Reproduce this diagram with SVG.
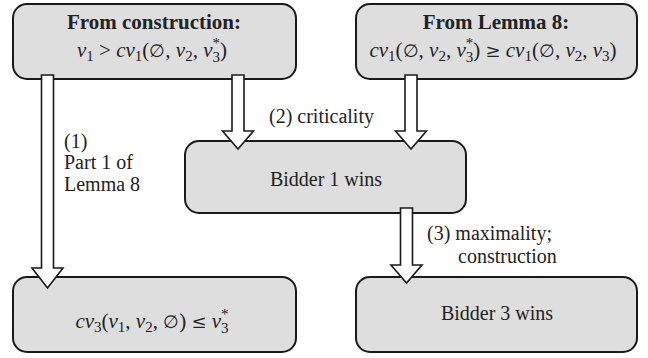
<svg xmlns="http://www.w3.org/2000/svg" width="648" height="358" viewBox="0 0 648 358">
<style>
.box{fill:#dedede;stroke:#1a1a1a;stroke-width:2}
.arr{fill:#fff;stroke:#1a1a1a;stroke-width:1.6;stroke-linejoin:miter}
.t{fill:#222;font-size:20px}
.m{font-size:21px}
.b{font-weight:bold;font-size:21px}
.i{font-style:italic}
.s{font-size:15px}
.d{font-size:18px}
</style>
<rect width="648" height="358" fill="#fff"/>
<g id="n1">
<rect class="box" x="13" y="4" width="283" height="75" rx="14"/>
<text class="t b" font-family="Liberation Serif, serif" x="154" y="29" text-anchor="middle">From construction:</text>
<text class="t m" font-family="Liberation Serif, serif" x="152" y="57" text-anchor="middle"><tspan class="i">v</tspan><tspan class="s" dy="4">1</tspan><tspan dy="-4"> &gt; </tspan><tspan class="i">cv</tspan><tspan class="s" dy="4">1</tspan><tspan dy="-4">(</tspan><tspan class="d" font-family="DejaVu Serif, serif">∅</tspan><tspan>, </tspan><tspan class="i">v</tspan><tspan class="s" dy="4">2</tspan><tspan dy="-4">, </tspan><tspan class="i">v</tspan><tspan class="s" dy="5">3</tspan><tspan class="s" dx="-7.5" dy="-14">*</tspan><tspan dy="9">)</tspan></text>
</g>
<g id="n2">
<rect class="box" x="356" y="4" width="281" height="75" rx="14"/>
<text class="t b" font-family="Liberation Serif, serif" x="496" y="29" text-anchor="middle">From Lemma 8:</text>
<text class="t m" font-family="Liberation Serif, serif" x="493" y="57" text-anchor="middle"><tspan class="i">cv</tspan><tspan class="s" dy="4">1</tspan><tspan dy="-4">(</tspan><tspan class="d" font-family="DejaVu Serif, serif">∅</tspan><tspan>, </tspan><tspan class="i">v</tspan><tspan class="s" dy="4">2</tspan><tspan dy="-4">, </tspan><tspan class="i">v</tspan><tspan class="s" dy="5">3</tspan><tspan class="s" dx="-7.5" dy="-14">*</tspan><tspan dy="9">) </tspan><tspan class="d" font-family="DejaVu Serif, serif">≥</tspan><tspan> </tspan><tspan class="i">cv</tspan><tspan class="s" dy="4">1</tspan><tspan dy="-4">(</tspan><tspan class="d" font-family="DejaVu Serif, serif">∅</tspan><tspan>, </tspan><tspan class="i">v</tspan><tspan class="s" dy="4">2</tspan><tspan dy="-4">, </tspan><tspan class="i">v</tspan><tspan class="s" dy="4">3</tspan><tspan dy="-4">)</tspan></text>
</g>
<g id="n3">
<rect class="box" x="185" y="141" width="281" height="72" rx="14"/>
<text class="t" font-family="Liberation Serif, serif" x="326" y="186" text-anchor="middle">Bidder 1 wins</text>
</g>
<g id="n4">
<rect class="box" x="13" y="277" width="283" height="75" rx="14"/>
<text class="t m" font-family="Liberation Serif, serif" x="152" y="328" text-anchor="middle"><tspan class="i">cv</tspan><tspan class="s" dy="4">3</tspan><tspan dy="-4">(</tspan><tspan class="i">v</tspan><tspan class="s" dy="4">1</tspan><tspan dy="-4">, </tspan><tspan class="i">v</tspan><tspan class="s" dy="4">2</tspan><tspan dy="-4">, </tspan><tspan class="d" font-family="DejaVu Serif, serif">∅</tspan><tspan>) </tspan><tspan class="d" font-family="DejaVu Serif, serif">≤</tspan><tspan> </tspan><tspan class="i">v</tspan><tspan class="s" dy="5">3</tspan><tspan class="s" dx="-7.5" dy="-14">*</tspan></text>
</g>
<g id="n5">
<rect class="box" x="356" y="277" width="281" height="75" rx="14"/>
<text class="t" font-family="Liberation Serif, serif" x="497" y="320" text-anchor="middle">Bidder 3 wins</text>
</g>
<g id="connectors">
<path class="arr" d="M41.5,75 V268 H32 L47.5,288 L63,268 H53.5 V75 Z"/>
<path class="arr" d="M232,75 V131 H222.5 L238,149 L253.5,131 H244 V75 Z"/>
<path class="arr" d="M405,75 V131 H395.5 L411,149 L426.5,131 H417 V75 Z"/>
<path class="arr" d="M400.5,208 V265 H391 L406.5,283 L422,265 H412.5 V208 Z"/>
<text class="t" font-family="Liberation Serif, serif" x="269" y="123">(2) criticality</text>
<text class="t" font-family="Liberation Serif, serif" x="64" y="148">(1)</text>
<text class="t" font-family="Liberation Serif, serif" x="64" y="169">Part 1 of</text>
<text class="t" font-family="Liberation Serif, serif" x="64" y="191">Lemma 8</text>
<text class="t" font-family="Liberation Serif, serif" x="427" y="240">(3) maximality;</text>
<text class="t" font-family="Liberation Serif, serif" x="458" y="263">construction</text>
</g>
</svg>
